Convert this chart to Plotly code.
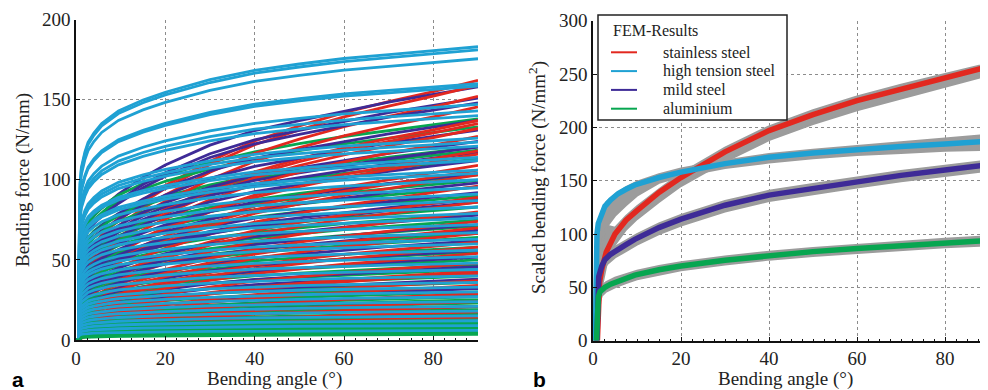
import plotly.graph_objects as go

# ---------------- data ----------------
# Master (scaled) curves per material
ss_ang = [1.0, 1.2, 1.5, 2, 3, 5, 7.5, 10, 15, 20, 30, 40, 50, 60, 70, 80, 90]
ss_val = [0, 40, 55, 67, 83, 100, 113, 122, 139, 153, 177, 197, 212, 225, 236, 246, 257]

ht_ang = [0.55, 0.7, 0.9, 1.2, 2, 2.7, 4, 5.75, 7.5, 9.5, 15, 20, 30, 40, 50, 60, 70, 80, 90]
ht_val = [0, 60, 100, 110, 120, 126, 132, 138, 142, 146, 153, 158, 166, 172, 176, 179.5, 182, 184.5, 187]

ms_ang = [0.9, 1.1, 1.3, 2, 2.7, 4, 5.75, 7.5, 9.5, 15, 20, 30, 40, 50, 60, 70, 80, 90]
ms_val = [0, 45, 60, 70, 76, 81, 86, 90, 95, 106, 114, 127, 136.5, 143, 149, 155, 160, 165]

al_ang = [0.8, 0.95, 1.2, 1.6, 2.7, 4, 5.75, 7.5, 9.5, 15, 20, 30, 40, 50, 60, 70, 80, 90]
al_val = [0, 20, 41, 46, 50, 53, 56, 59, 61.5, 66.5, 70, 75.5, 80, 83.5, 86.5, 89, 91.5, 94]

# Gray scatter bands (FEM results) in panel b
band_ang = [0, 0.5, 1, 1.5, 2, 3, 5, 7.5, 10, 15, 20, 30, 40, 50, 60, 70, 80, 90]
ss_lo = [0, 0, 5, 30, 50, 70, 90, 104, 114, 130, 145, 168, 188, 203, 216, 227, 238, 249]
ss_hi = [0, 10, 45, 62, 95, 108, 106, 117, 126, 142, 157, 181, 201, 216, 229, 240, 250, 260]
ht_lo = [0, 0, 50, 75, 92, 106, 117, 127, 136, 148, 154, 162, 167, 171, 174, 176, 178, 179]
ht_hi = [0, 70, 110, 116, 122, 130, 137, 144, 149, 156, 161.5, 169, 175, 179, 182.5, 186, 190, 193]
ms_lo = [0, 0, 15, 56, 64, 71, 78, 84, 90, 100, 108, 121, 131, 137.5, 143.5, 149.5, 154.5, 159.5]
ms_hi = [0, 10, 45, 68, 75, 81, 88, 94, 100, 110, 118, 131, 140.5, 147, 153, 159, 164, 169]
al_lo = [0, 0, 10, 36, 42, 46, 50, 54, 57.5, 62, 66, 71.5, 76, 79.5, 82.5, 85, 87.5, 89.5]
al_hi = [0, 8, 40, 49, 51.5, 55, 59, 62.5, 65.5, 70, 73.5, 79, 83.5, 87, 90, 93, 95.5, 98]

# Panel a: bending force at 90 deg of every measured specimen, per material
ss_end = [162, 159, 152, 145.5, 137, 135, 132, 127, 118, 116, 109, 106, 103, 96, 89, 86, 80, 74, 70,
          66.5, 61, 58, 54, 48, 43, 41.5, 37, 34, 29, 24, 21, 17.6, 14, 11, 8]
ms_end = [158, 151, 148, 137, 131, 124, 120.4, 117, 112, 104, 98, 92, 88, 86, 78, 72, 68.5, 62, 56,
          51.7, 45.7, 41.7, 38, 32, 28, 24, 20.7, 15.6, 12.5, 9, 5]
al_end = [138, 133, 120.5, 118.4, 113, 103, 99.7, 95.5, 90, 83, 79, 74.8, 71, 66.5, 64, 58, 55, 50,
          47, 44, 40, 36, 33, 30, 27, 25, 23, 21, 19, 17, 15.5, 14, 12.5, 11, 10, 9, 8, 7, 6, 5, 4, 3.5]
ht_end = [183, 181, 175.5, 160, 158.5, 147, 143, 140, 126, 123.5, 121, 114, 112, 106, 104, 100,
          95, 91, 87, 83, 79, 76, 72, 67, 63, 60, 56, 52, 48, 44, 40, 36, 33, 30, 27, 24, 21, 18,
          15, 12, 9, 6]

materials = ["stainless steel", "high tension steel", "mild steel", "aluminium"]
colors = {"stainless steel": "#e2281f", "high tension steel": "#1fa1d3",
          "mild steel": "#3e2b97", "aluminium": "#07a650"}
GRAY = "#9c9c9c"

master = {"stainless steel": (ss_ang, ss_val), "high tension steel": (ht_ang, ht_val),
          "mild steel": (ms_ang, ms_val), "aluminium": (al_ang, al_val)}
bands = {"stainless steel": (ss_lo, ss_hi), "high tension steel": (ht_lo, ht_hi),
         "mild steel": (ms_lo, ms_hi), "aluminium": (al_lo, al_hi)}
ends = {"stainless steel": ss_end, "high tension steel": ht_end,
        "mild steel": ms_end, "aluminium": al_end}

# ---------------- figure ----------------
W, H = 988, 390
OFF = 8  # page body margin of the rendered html
def px(x): return (x - OFF) / W
def py(y): return 1 - (y - OFF) / H

fig = go.Figure()

# Panel a curves, materials interleaved (round robin) in drawing order
order = ["stainless steel", "mild steel", "high tension steel", "aluminium"]
nmax = max(len(ends[m]) for m in order)
for i in range(nmax):
    for mat in order:
        if i >= len(ends[mat]):
            continue
        e = ends[mat][i]
        ang, val = master[mat]
        yy = [0] + [e * v / val[-1] for v in val]
        fig.add_trace(go.Scatter(x=[0] + ang, y=yy, mode="lines", xaxis="x", yaxis="y",
                                 line=dict(color=colors[mat], width=2.8), showlegend=False,
                                 hoverinfo="skip"))

# Panel b gray bands
for mat in materials:
    lo, hi = bands[mat]
    fig.add_trace(go.Scatter(x=band_ang + band_ang[::-1], y=hi + lo[::-1], mode="lines",
                             fill="toself", fillcolor=GRAY, line=dict(color=GRAY, width=2),
                             xaxis="x2", yaxis="y2", showlegend=False, hoverinfo="skip"))
# Panel b master curves
for mat in materials:
    ang, val = master[mat]
    fig.add_trace(go.Scatter(x=ang, y=val, mode="lines", name=mat, xaxis="x2", yaxis="y2",
                             line=dict(color=colors[mat], width=5.5), showlegend=False))

serif = "Liberation Serif"
tickfont = dict(family=serif, size=19, color="#222")

def xax(domain, anchor):
    return dict(domain=domain, range=[0, 90], tickvals=[0, 20, 40, 60, 80], showgrid=True,
                griddash="dot", gridcolor="#8c8c8c", gridwidth=1, showline=True, linecolor="#111",
                linewidth=1.5, ticks="inside", ticklen=4, tickcolor="#111", zeroline=False,
                tickfont=tickfont, fixedrange=True, automargin=False, anchor=anchor,
                minor=dict(ticks="inside", ticklen=2, dtick=2.5, tickcolor="#111", showgrid=False))

def yax(domain, rng, dt, anchor):
    return dict(domain=domain, range=rng, dtick=dt, showgrid=True, griddash="dot",
                gridcolor="#8c8c8c", gridwidth=1, showline=True, linecolor="#111", linewidth=1.5,
                ticks="inside", ticklen=4, tickcolor="#111", zeroline=False, tickfont=tickfont,
                anchor=anchor, fixedrange=True, automargin=False)

fig.update_layout(
    width=W, height=H, margin=dict(l=0, r=0, t=0, b=0, autoexpand=False),
    plot_bgcolor="white", paper_bgcolor="white", showlegend=False,
    font=dict(family=serif, color="#222"),
    xaxis=xax([px(76), px(478)], "y"),
    yaxis=yax([py(340), py(19.5)], [0, 200], 50, "x"),
    xaxis2=xax([px(593), px(989)], "y2"),
    yaxis2=yax([py(340.7), py(20.7)], [0, 300], 50, "x2"),
)

ann = []
def text(t, x, y, size=19, fam=serif, angle=0, xanchor="center", bold=False, color="#222"):
    ann.append(dict(text=("<b>%s</b>" % t) if bold else t, x=px(x), y=py(y), xref="paper",
                    yref="paper", showarrow=False, textangle=angle, xanchor=xanchor,
                    yanchor="middle", font=dict(family=fam, size=size, color=color)))

text("Bending angle (°)", 274, 379)
text("Bending angle (°)", 785, 379)
text("Bending force (N/mm)", 23, 180, angle=-90)
text("Scaled bending force (N/mm<sup>2</sup>)", 537, 178, angle=-90)
text("a", 18, 379, size=21, fam="Liberation Sans", bold=True, color="#000")
text("b", 539, 379, size=21, fam="Liberation Sans", bold=True, color="#000")

# Legend (manual, to match the compact MATLAB layout)
shapes = [dict(type="rect", xref="paper", yref="paper", x0=px(598), x1=px(787), y0=py(120),
               y1=py(15), line=dict(color="#222", width=1.5), fillcolor="white", layer="above")]
text("FEM-Results", 611, 30, size=16, xanchor="left")
for i, mat in enumerate(materials):
    yy = 52.3 + i * 18.8
    shapes.append(dict(type="line", xref="paper", yref="paper", x0=px(611), x1=px(637),
                       y0=py(yy), y1=py(yy), line=dict(color=colors[mat], width=2), layer="above"))
    text(mat, 661, yy, size=16, xanchor="left")

fig.update_layout(annotations=ann, shapes=shapes)
fig.write_html("out.html")
